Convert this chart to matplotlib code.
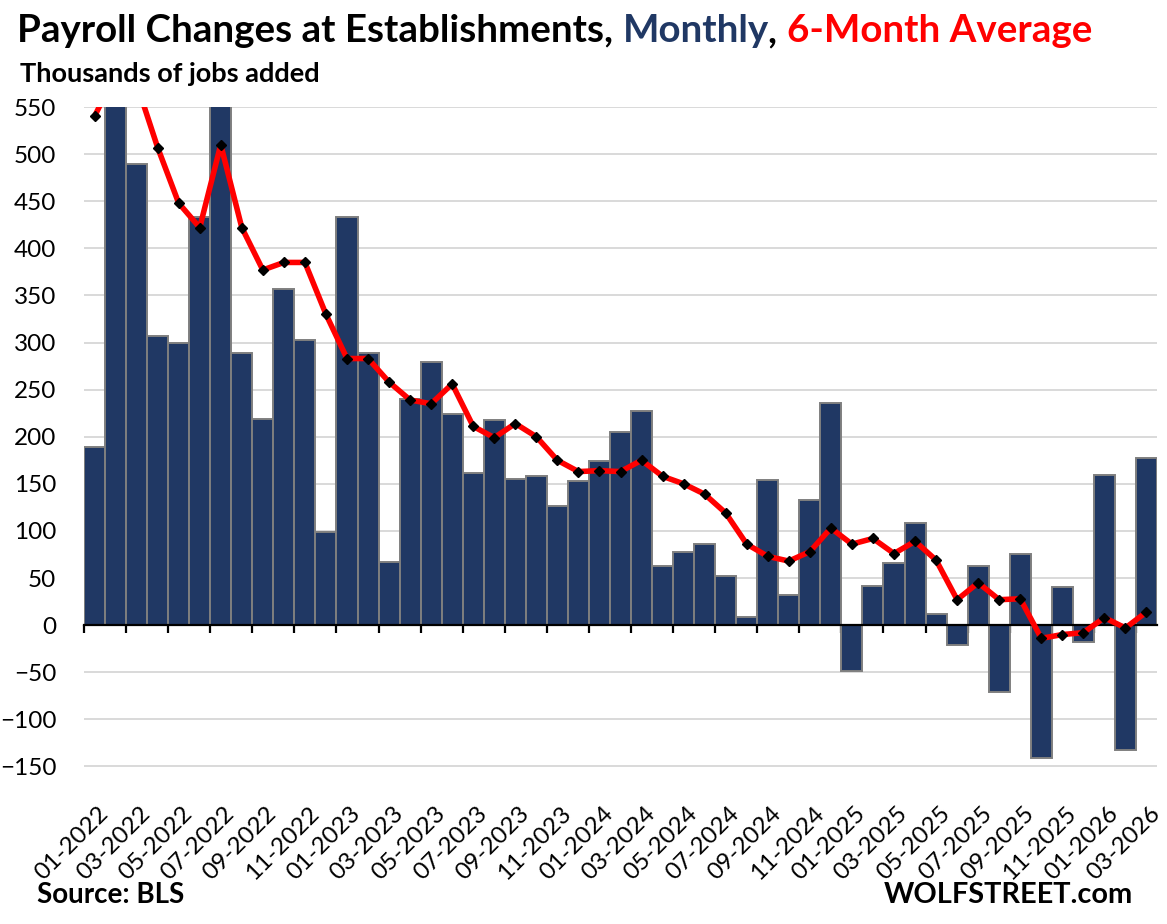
import numpy as np
import matplotlib
matplotlib.use('Agg')
import matplotlib.pyplot as plt
from matplotlib.transforms import ScaledTranslation

plt.rcParams['font.family'] = ['Lato', 'DejaVu Sans']

# ------------------------------- Data ------------------------------- #
months = ['01-2022', '02-2022', '03-2022', '04-2022', '05-2022', '06-2022',
          '07-2022', '08-2022', '09-2022', '10-2022', '11-2022', '12-2022',
          '01-2023', '02-2023', '03-2023', '04-2023', '05-2023', '06-2023',
          '07-2023', '08-2023', '09-2023', '10-2023', '11-2023', '12-2023',
          '01-2024', '02-2024', '03-2024', '04-2024', '05-2024', '06-2024',
          '07-2024', '08-2024', '09-2024', '10-2024', '11-2024', '12-2024',
          '01-2025', '02-2025', '03-2025', '04-2025', '05-2025', '06-2025',
          '07-2025', '08-2025', '09-2025', '10-2025', '11-2025', '12-2025',
          '01-2026', '02-2026', '03-2026']

# monthly payroll change, thousands (02-2022 and 07-2022 run off the top)
monthly = [189, 813, 490, 307, 300, 433,
           717, 289, 219, 357, 303, 99,
           433, 289, 67, 240, 279, 224,
           162, 218, 155, 158, 126, 153,
           174, 205, 227, 63, 78, 86,
           52, 9, 154, 32, 133, 236,
           -49, 42, 66, 108, 12, -21,
           63, -71, 75, -141, 41, -18,
           159, -133, 177]

# 6-month average, thousands
avg6 = [540, 585, 575, 507, 448, 422,
        510, 422, 377, 385, 385, 330,
        283, 283, 258, 239, 235, 256,
        211, 199, 214, 200, 175, 163,
        164, 163, 175, 158, 150, 139,
        119, 86, 73, 68, 78, 103,
        86, 92, 76, 89, 69, 27,
        45, 27, 28, -14, -10, -8,
        8, -3, 14]

navy = '#203864'
red = '#FF0000'

# ------------------------------- Plot ------------------------------- #
fig = plt.figure(figsize=(11.67, 9.24), dpi=100)
ax = fig.add_axes([84/1167, 1 - 790/924, 1073/1167, 683/924])

x = np.arange(len(months))
ax.bar(x, monthly, width=1.0, color=navy, edgecolor='#7f7f7f', linewidth=1.4, zorder=2)
ax.plot(x, avg6, color=red, lw=4.0, zorder=4, solid_joinstyle='round')
ax.plot(x, avg6, ls='none', marker='D', ms=4.6, color='black', zorder=5)

ax.set_xlim(-0.5, len(months) - 0.5)
ax.set_ylim(-175, 550)

yt = np.arange(-150, 551, 50)
for v in yt:
    if v != 0:
        ax.axhline(v, color='#d9d9d9', lw=1.4, zorder=0)
ax.set_yticks(yt)
ax.tick_params(axis='y', length=0, pad=20, labelsize=17.5)

for s in ['top', 'right', 'left']:
    ax.spines[s].set_visible(False)

# zero line carries the tick marks between every second category
ax.spines['bottom'].set_position(('data', 0))
ax.spines['bottom'].set_linewidth(1.6)
ax.spines['bottom'].set_zorder(3)
ax.set_xticks(np.arange(-0.5, len(months), 2))
ax.set_xticklabels([])
ax.tick_params(axis='x', length=6, width=1.6, direction='out')

# labels sit at the bottom of the plot area
sec = ax.secondary_xaxis('bottom')
sec.spines['bottom'].set_visible(False)
sec.set_xticks(x[::2])
sec.set_xticklabels(months[::2], rotation=45, ha='right', va='top',
                    rotation_mode='anchor', fontsize=17.5)
sec.tick_params(axis='x', length=0, pad=9)
shift = ScaledTranslation(3/100, 0, fig.dpi_scale_trans)
for lab in sec.get_xticklabels():
    lab.set_transform(lab.get_transform() + shift)

# ------------------------------- Texts ------------------------------- #
tsize = 27.7
t1 = fig.text(17/1167, 1 - 48/924, 'Payroll Changes at Establishments, ',
              fontsize=tsize, fontweight='bold', color='black', va='bottom')
t2 = ax.annotate('Monthly', xy=(1, 0), xycoords=t1, fontsize=tsize,
                 fontweight='bold', color=navy, va='bottom', annotation_clip=False)
t3 = ax.annotate(', ', xy=(1, 0), xycoords=t2, fontsize=tsize,
                 fontweight='bold', color='black', va='bottom', annotation_clip=False)
ax.annotate('6-Month Average', xy=(1, 0), xycoords=t3, fontsize=tsize,
            fontweight='bold', color=red, va='bottom', annotation_clip=False)

fig.text(20/1167, 1 - 86/924, 'Thousands of jobs added', fontsize=19.5,
         fontweight='bold', va='bottom')
fig.text(37/1167, 1 - 908/924, 'Source: BLS', fontsize=20,
         fontweight='bold', va='bottom')
fig.text(1133/1167, 1 - 908/924, 'WOLFSTREET.com', fontsize=20.8,
         fontweight='bold', va='bottom', ha='right')

plt.savefig('out.png', dpi=100)
